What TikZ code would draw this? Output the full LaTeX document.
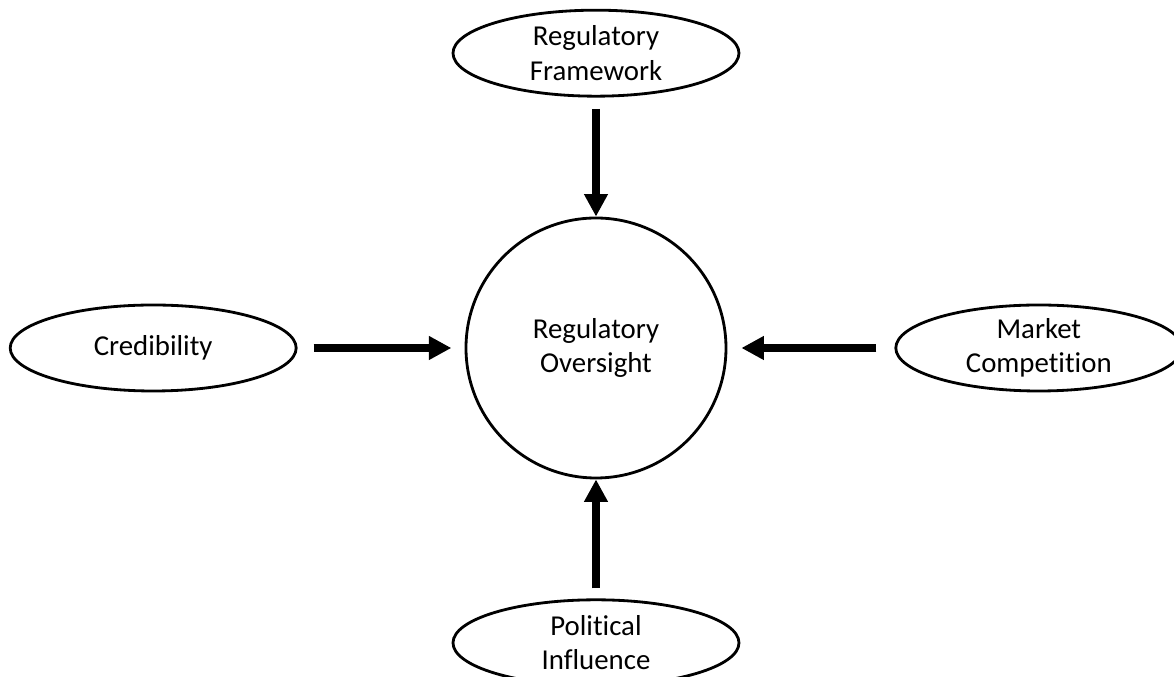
\documentclass[tikz,border=0pt]{standalone}
\usepackage{fontspec}
\setmainfont{Carlito}[Ligatures=NoCommon]
\usetikzlibrary{arrows.meta, positioning, shapes.geometric}

\begin{document}
\begin{tikzpicture}[
    node distance=2.975cm and 4.175cm,
    factor/.style={draw, ellipse, line width=2pt, minimum width=7.15cm, minimum height=2.15cm, inner sep=0pt, align=center, font=\fontsize{20.5}{24.5}\selectfont},
    core/.style={draw, circle, line width=2pt, minimum size=6.5cm, inner sep=0pt, align=center, font=\fontsize{20.5}{24.5}\selectfont},
    edge/.style={line width=5.5pt, -{Triangle[length=16pt, width=16pt]}},
]

% Frame
\useasboundingbox (-14.9,8.7) rectangle (14.45,-8.225);

% Centre
\node[core] (reg) at (0,0) {Regulatory\\Oversight};

% Factors
\node[factor, above=of reg] (frame) {Regulatory\\Framework};
\node[factor, left=of reg] (cred) {Credibility};
\node[factor, right=of reg] (market) {Market\\Competition};
\node[factor, below=of reg] (polit) {Political\\Influence};

% Edges
\draw[edge, shorten <=0.28cm] (frame) -- (reg);
\draw[edge, shorten <=0.4cm, shorten >=0.33cm] (cred) -- (reg);
\draw[edge, shorten <=0.45cm, shorten >=0.35cm] (market) -- (reg);
\draw[edge, shorten <=0.25cm] (polit) -- (reg);

\end{tikzpicture}
\end{document}
